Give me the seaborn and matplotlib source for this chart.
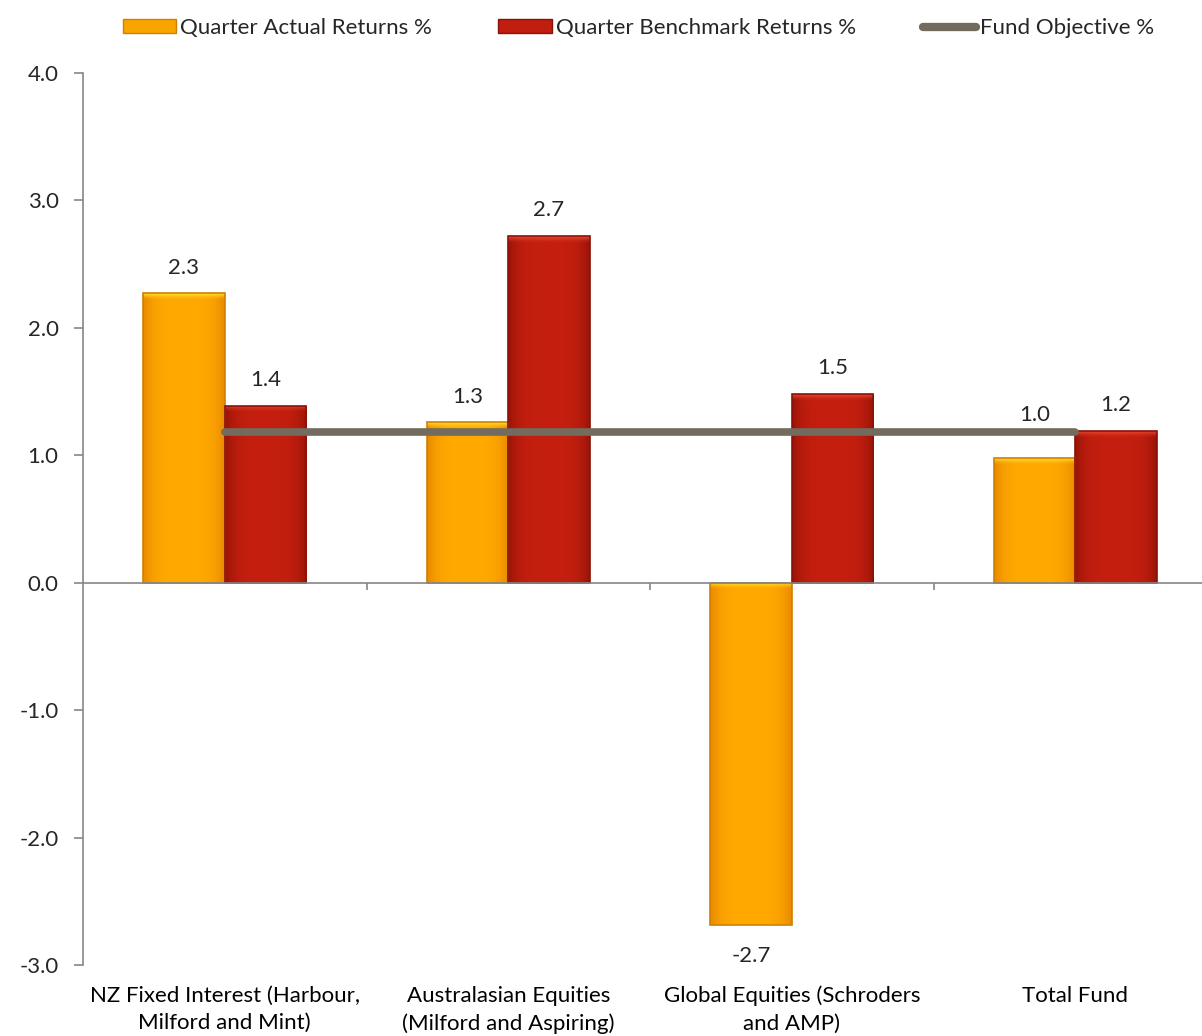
import matplotlib
matplotlib.use("Agg")
import matplotlib.pyplot as plt
import matplotlib.transforms as mtransforms
from matplotlib.patches import Patch
from matplotlib.lines import Line2D
from matplotlib.colors import to_rgb
import numpy as np
import seaborn as sns
import pandas as pd

categories = ["NZ Fixed Interest (Harbour,\nMilford and Mint)",
              "Australasian Equities\n(Milford and Aspiring)",
              "Global Equities (Schroders\nand AMP)",
              "Total Fund"]
actual = [2.27, 1.26, -2.69, 0.98]
benchmark = [1.39, 2.72, 1.48, 1.19]
objective = [1.18, 1.18, 1.18, 1.18]
actual_labels = ["2.3", "1.3", "-2.7", "1.0"]
bench_labels = ["1.4", "2.7", "1.5", "1.2"]
series_names = ["Quarter Actual Returns %", "Quarter Benchmark Returns %", "Fund Objective %"]
yticks = [-3.0, -2.0, -1.0, 0.0, 1.0, 2.0, 3.0, 4.0]

sns.set_theme(style="white")
plt.rcParams["font.family"] = ["Lato", "DejaVu Sans"]

df = pd.DataFrame({
    "category": categories * 2,
    "series": [series_names[0]] * 4 + [series_names[1]] * 4,
    "value": actual + benchmark,
})

orange = "#F8A500"
red = "#C01E0E"
orange_edge = "#D08000"
red_edge = "#8A1208"
line_col = "#736B5E"
# shading: (center, side, top highlight)
shade = {0: ("#FFA900", "#E98900", "#FFE030"), 1: ("#C41F0F", "#9A1408", "#E8452C")}

fig = plt.figure(figsize=(12.02, 10.36), dpi=100)
ax = fig.add_axes([83 / 1202, 1 - 965 / 1036, 1 - 83 / 1202, (965 - 73) / 1036])

sns.barplot(data=df, x="category", y="value", hue="series", order=categories,
            hue_order=series_names[:2], palette=[orange, red], width=0.575,
            saturation=1, ax=ax, legend=False, linewidth=1.2)

ax.set_ylim(-3.0, 4.0)

# glossy shading clipped to each bar
for i, bar in enumerate(ax.patches[:8]):
    s = 0 if i < 4 else 1
    bar.set_edgecolor(orange_edge if s == 0 else red_edge)
    c_mid, c_side, c_top = (np.array(to_rgb(c)) for c in shade[s])
    x0, x1 = bar.get_x(), bar.get_x() + bar.get_width()
    y0, y1 = sorted([bar.get_y(), bar.get_y() + bar.get_height()])
    nx, ny = 60, 300
    u = np.linspace(0, 1, nx)
    side = np.clip(np.abs(2 * u - 1) ** 4, 0, 1)
    row = c_mid[None, :] * (1 - side[:, None]) + c_side[None, :] * side[:, None]
    ys = np.linspace(y1, y0, ny)
    top_w = np.clip(1 - (y1 - ys) / 0.05, 0, 1) ** 1.5
    img = row[None, :, :] * (1 - top_w[:, None, None]) + c_top[None, None, :] * top_w[:, None, None]
    im = ax.imshow(img, extent=(x0, x1, y0, y1), aspect="auto", interpolation="bilinear",
                   zorder=1.5)
    im.set_clip_path(bar)
    bar.set_facecolor("none")
    bar.set_zorder(1.6)

ax.plot(range(len(categories)), objective, color=line_col, lw=5.5,
        solid_capstyle="round", zorder=5)

ax.set_yticks(yticks)
ax.set_yticklabels([f"{v:.1f}" for v in yticks], fontsize=16)
ax.set_xlabel("")
ax.set_ylabel("")
ax.set_xticks([0.5, 1.5, 2.5])
ax.set_xticklabels([])
ax.set_xlim(-0.5, -0.5 + (1202 - 83) / 283.5)
ax.set_ylim(-3.0, 4.0)

# spines
for s in ["top", "right"]:
    ax.spines[s].set_visible(False)
ax.spines["left"].set_color("#868686")
ax.spines["bottom"].set_color("#868686")
ax.spines["left"].set_linewidth(1.2)
ax.spines["bottom"].set_linewidth(1.2)
ax.spines["bottom"].set_position(("data", 0))
ax.tick_params(axis="y", which="both", left=True, length=6.5, width=1.2, color="#868686", pad=11)
ax.tick_params(axis="x", bottom=True, length=5, width=1.2, color="#868686", direction="out")

# category labels at bottom
trans = mtransforms.blended_transform_factory(ax.transData, ax.transAxes)
for i, c in enumerate(categories):
    ax.text(i, -0.023, c, transform=trans, ha="center", va="top", fontsize=16,
            linespacing=1.48, color="black")

# data labels
bw = 0.2875
extra = [0, 0, 0, 13]
for i in range(4):
    v = actual[i]
    off = (18 + extra[i]) if v >= 0 else -22
    ax.annotate(actual_labels[i], (i - bw / 2, v), xytext=(0, off), textcoords="offset points",
                ha="center", va="center", fontsize=16)
    v = benchmark[i]
    ax.annotate(bench_labels[i], (i + bw / 2, v), xytext=(0, 18.5), textcoords="offset points",
                ha="center", va="center", fontsize=16)

handles = [Patch(facecolor=orange, edgecolor=orange_edge),
           Patch(facecolor=red, edgecolor=red_edge),
           Line2D([0], [0], color=line_col, lw=6, solid_capstyle="round")]
fig.legend(handles, series_names, loc="center", bbox_to_anchor=(0.531, 1 - 28 / 1036), ncol=3,
           frameon=False, fontsize=16, handlelength=2.4, handleheight=0.55,
           handletextpad=0.18, columnspacing=3.0)

fig.savefig("out.png", dpi=100)
